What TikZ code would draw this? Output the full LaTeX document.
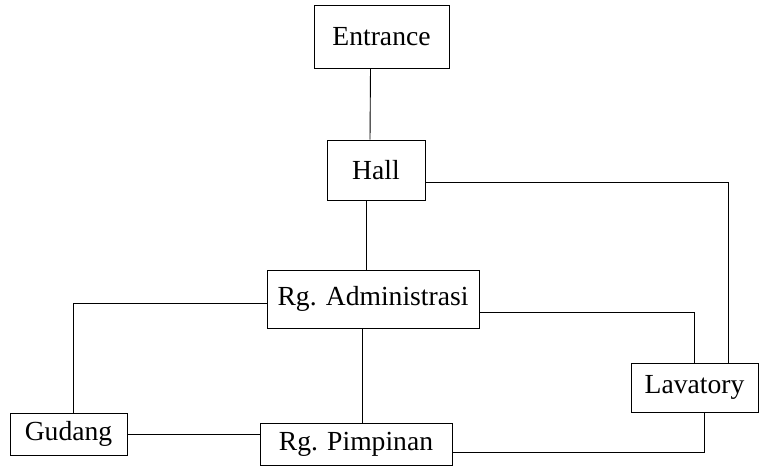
\documentclass[tikz,border=0pt]{standalone}
\usepackage{fontspec}
\setmainfont{Liberation Serif}
\begin{document}
\begin{tikzpicture}[x=1pt, y=-1pt,
  ruang/.style = {draw, rectangle, inner sep = 0pt, line width = 0.9pt, font = \fontsize{27.6}{32}\selectfont},
  jalur/.style = {line width = 0.9pt}]
% Fijamos el marco del dibujo
\useasboundingbox (0,0) rectangle (761,467);

% Los nodos (ruangan) van nombrados para referenciarlos luego
\node[ruang, minimum width = 135, minimum height = 63] (entrance) at (381.5, 36.5) {Entrance};
\node[ruang, minimum width = 98, minimum height = 60] (hall) at (376, 170) {Hall};
\node[ruang, minimum width = 212, minimum height = 58] (admin) at (373, 299) {Rg. Administrasi};
\node[ruang, minimum width = 117, minimum height = 42] (gudang) at (68.5, 434) {Gudang};
\node[ruang, minimum width = 192, minimum height = 42] (pimpinan) at (356, 444) {Rg. Pimpinan};
\node[ruang, minimum width = 127, minimum height = 49] (lavatory) at (694.5, 387.5) {Lavatory};

% Lineas verticales del eje central
\draw[jalur] ([xshift=-11]entrance.south) -- ([xshift=-6]hall.north);
\draw[jalur] ([xshift=-10]hall.south) -- ([xshift=-7]admin.north);
\draw[jalur] ([xshift=-11]admin.south) -- ([xshift=6]pimpinan.north);

% Lineas con codo hacia los lados
\draw[jalur] ([yshift=-12]hall.east) -| ([xshift=-30]lavatory.north east);
\draw[jalur] ([yshift=-4]admin.west) -| ([xshift=5]gudang.north);
\draw[jalur] ([yshift=-13]admin.east) -| (lavatory.north);
\draw[jalur] (gudang.east) -- (gudang.east -| pimpinan.west);
\draw[jalur] ([yshift=-8]pimpinan.east) -| ([xshift=10]lavatory.south);
\end{tikzpicture}
\end{document}
